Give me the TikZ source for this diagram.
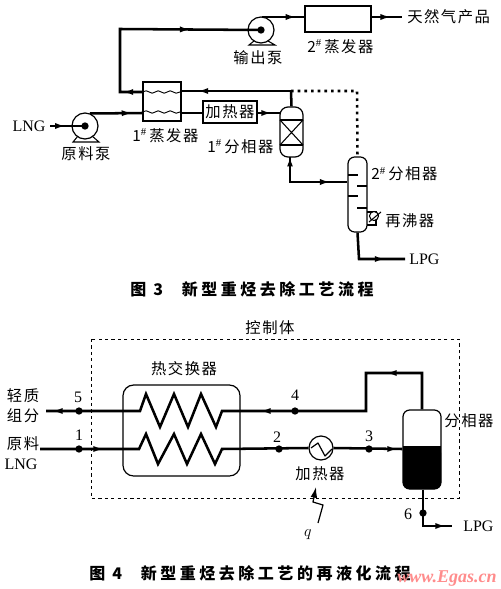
\documentclass[tikz,border=0pt]{standalone}
\usepackage{fontspec}
\setmainfont{Liberation Serif}
\newfontfamily\cjk[LetterSpace=10]{Noto Sans CJK SC}
\newfontfamily\cjkt[LetterSpace=22]{Noto Sans CJK SC}
\usetikzlibrary{arrows.meta,decorations.markings,decorations.pathmorphing}
\def\u{0.75pt}
\tikzset{
  x=0.75pt,y=-0.75pt,
  flow/.style={line width=1.9pt,line join=miter},
  thin line/.style={line width=0.8pt},
  midtip/.style={postaction={decorate,decoration={markings,mark=at position #1 with {\arrow{Latex[length=8pt,width=4.6pt]}}}}},
  equip/.style={draw,line width=0.9pt,fill=white,inner sep=0pt},
  label/.style={inner sep=0pt,font=\cjk\fontsize{11.5}{13}\selectfont},
  latin/.style={inner sep=0pt,font=\fontsize{12}{13}\selectfont},
  title/.style={inner sep=0pt,font=\cjkt\bfseries\fontsize{12}{14}\selectfont},
  pt/.style={circle,fill=black,minimum size=5.5pt,inner sep=0pt},
  wave/.style={line width=0.7pt,decorate,decoration={snake,segment length=9pt,amplitude=0.9pt}},
  ctrl/.style={draw,line width=0.7pt,dash pattern=on 2.4pt off 2.4pt}
}
\begin{document}
\begin{tikzpicture}
\useasboundingbox (0,0) rectangle (500,589);
\fill[white] (0,0) rectangle (500,589);

% ---------- Figure 3 ----------
\node[circle,equip,minimum size=26*\u] (pumpA) at (85,126) {};
\node[circle,equip,minimum size=26*\u] (pumpB) at (261,30) {};
\node[equip,minimum width=38*\u,minimum height=39*\u] (evapA) at (162,101.5) {};
\node[equip,minimum width=66*\u,minimum height=26*\u] (evapB) at (338,19) {};
\node[equip,minimum width=54*\u,minimum height=22*\u,font=\cjk\fontsize{11.5}{13}\selectfont] (heatA) at (230,112) {加热器};
\node[equip,rounded corners=6pt,minimum width=23*\u,minimum height=50*\u] (sepA) at (291.5,132) {};
\node[equip,rounded corners=5pt,minimum width=19*\u,minimum height=75*\u] (sepB) at (357.5,194.5) {};

\coordinate (lngIn) at (50,126);
\coordinate (pATop) at (90,113.5);
\coordinate (eAinL) at (143,113);
\coordinate (eAoutR) at (181,113);
\coordinate (hAinL) at (203,113);
\coordinate (hAoutR) at (257,113);
\coordinate (sAinL) at (280,113);
\coordinate (junc) at (291,91);
\coordinate (eAhotR) at (181,91);
\coordinate (eAhotL) at (143,92);
\coordinate (cornerB) at (120,92);
\coordinate (cornerT) at (120,29);
\coordinate (pBTop) at (262,17);
\coordinate (eBin) at (305,17);
\coordinate (eBout) at (371,17);
\coordinate (prodEnd) at (402,17);
\coordinate (dotC) at (357,91);
\coordinate (sepAbot) at (290,157);
\coordinate (lowC) at (290,182);
\coordinate (sBin) at (347,182);
\coordinate (lpgC) at (359,259);
\coordinate (lpgEnd) at (405,259);

\draw[flow,midtip=0.45] (lngIn) -- (pumpA.center);
\node[pt,minimum size=5.5pt] (pAdot) at (pumpA.center) {};
\draw[flow,midtip=0.8] (pATop) -- (eAinL);
\draw[flow] (eAoutR) -- (hAinL);
\draw[flow,midtip=0.65] (hAoutR) -- (sAinL);
\draw[flow,midtip=0.85] (junc) -- (eAhotR);
\draw[flow] (junc) -- (sepA.north);
\draw[flow,midtip=0.09,midtip=0.69] (eAhotL) -- (cornerB) -- (cornerT) -- (pumpB.center);
\node[pt,minimum size=5.5pt] (pBdot) at (pumpB.center) {};
\draw[flow,midtip=0.8] (pBTop) -- (eBin);
\draw[flow,midtip=0.65] (eBout) -- (prodEnd);
\draw[line width=1.9pt,dash pattern=on 2pt off 3pt] (junc) -- (dotC) -- (sepB.north);
\draw[flow,midtip=0.8] (sepAbot) -- (lowC) -- (sBin);
\draw[-{Latex[length=7pt,width=4.4pt]},flow] (lowC) -- (sepAbot);
\draw[flow,midtip=0.73] (sepB.south) -- (lpgC) -- (lpgEnd);

% evaporator wavy tubes
\draw[wave] (evapA.west |- 0,92) -- (evapA.east |- 0,92);
\draw[wave] (evapA.west |- 0,112) -- (evapA.east |- 0,112);
% pump bases
\draw[thin line] (78,136) -- (73,142) -- (99,142) -- (92,136);
\draw[thin line] (254,41) -- (249,45) -- (275,45) -- (268,41);
% separator 1 internals
\draw[thin line] (280,120) -- (303,120) (280,145) -- (303,145);
\draw[thin line] (280,120) -- (303,145) (303,120) -- (280,145);
% separator 2 trays
\draw[thin line] (348,175) -- (358,175) (357,186) -- (367,186) (348,196) -- (358,196) (357,208) -- (367,208);
% reboiler
\draw[thin line] (367,212) -- (376,212) -- (376,225) -- (367,225);
\draw[thin line,fill=white] (374,216) circle (4.5);
\draw[thin line] (369,222) -- (381,212);

\node[latin] (tLNG) at (29,126) {LNG};
\node[label] (tP1) at (86,154) {原料泵};
\node[label,anchor=west] (tE1) at (132,136) {1$^{\#}$\,蒸发器};
\node[label,anchor=west] (tS1) at (207,147) {1$^{\#}$\,分相器};
\node[label] (tP2) at (258,58) {输出泵};
\node[label,anchor=west] (tE2) at (307,47) {2$^{\#}$\,蒸发器};
\node[label,anchor=west] (tProd) at (407,17) {天然气产品};
\node[label,anchor=west] (tS2) at (371,174) {2$^{\#}$\,分相器};
\node[label,anchor=west] (tReb) at (385,221) {再沸器};
\node[latin,anchor=west] (tLPGa) at (409,259) {LPG};
\node[title,anchor=west] (tFig3) at (130,289) {图 3\hspace{14pt}新型重烃去除工艺流程};

% ---------- Figure 4 ----------
\draw[ctrl] (91,339) rectangle (459,498);
\node[label] (tCtl) at (270,328) {控制体};
\node[label] (tHX) at (184,369) {热交换器};
\node[draw,line width=0.9pt,rounded corners=8pt,minimum width=117*\u,minimum height=91*\u,inner sep=0pt] (hx) at (181.5,430.5) {};
\node[circle,equip,minimum size=24*\u] (heatB) at (321,448) {};
\node[draw,line width=0.9pt,rounded corners=5pt,minimum width=38*\u,minimum height=79*\u,inner sep=0pt] (sepC) at (422,449.5) {};
\fill[rounded corners=5pt] (403,446) -- (403,489) -- (441,489) -- (441,446) -- cycle;
\fill (403,446) rectangle (441,455);

\coordinate (lightOut) at (46,411);
\coordinate (feedIn) at (40,449);
\coordinate (up) at (366,411);
\coordinate (upT) at (366,373);
\coordinate (dn) at (423,526);
\coordinate (lpgF) at (452,526);

\draw[flow] (sepC.north) -- (upT -| sepC.north) -- (upT) -- (up) -- (222,411) -- (216,427) -- (201,394) -- (188,427) -- (174,394) -- (160,427) -- (146,394) -- (140,411) -- (lightOut);
\draw[flow] (feedIn) -- (139,449) -- (146,434) -- (158,464) -- (174,434) -- (187,464) -- (201,434) -- (215,464) -- (222,449) -- (heatB.west);
\draw[flow] (heatB.east) -- (sepC.west |- 0,449);
\draw[flow] (sepC.south -| dn) -- (dn) -- (lpgF);
% arrows along the lines
\draw[flow,-{Latex[length=8pt,width=4.6pt]}] (380,449) -- (398,449);
\draw[flow,-{Latex[length=8pt,width=4.6pt]}] (280,411) -- (260,411);
\draw[flow,-{Latex[length=8pt,width=4.6pt]}] (405,373) -- (386,373);
\draw[flow,-{Latex[length=8pt,width=4.6pt]}] (66,411) -- (52,411);
\draw[flow,-{Latex[length=8pt,width=4.6pt]}] (92,449) -- (104,449);
\draw[flow,-{Latex[length=8pt,width=4.6pt]}] (430,526) -- (446,526);

\draw[line width=0.9pt,line join=round] (311,448) -- (318,443) -- (325,456) -- (332,449);
\node[pt] (p5) at (79,411) {};
\node[pt] (p1) at (79,449) {};
\node[pt] (p2) at (279,449) {};
\node[pt] (p3) at (369,449) {};
\node[pt] (p4) at (295,411) {};
\node[pt] (p6) at (423,513) {};
\coordinate (qTail) at (318,523);
\draw[line width=0.9pt,-{Latex[length=8pt,width=5pt]}] (qTail) -- (323,505) -- (313,502) -- (316,487);

\node[latin] (n5) at (78,397) {5};
\node[latin] (n1) at (79,435) {1};
\node[latin] (n2) at (277,437) {2};
\node[latin] (n3) at (369,436) {3};
\node[latin] (n4) at (295,395) {4};
\node[latin] (n6) at (408,514) {6};
\node[latin] (tq) at (308,535) {$q$};
\node[label] (tL1) at (23,396) {轻质};
\node[label] (tL2) at (23,416) {组分};
\node[label] (tR1) at (23,444) {原料};
\node[latin] (tR2) at (21,464) {LNG};
\node[label] (tHB) at (320,474) {加热器};
\node[label] (tSC) at (469,421) {分相器};
\node[latin,anchor=west] (tLPGb) at (463,526) {LPG};
\node[title,anchor=west] (tFig4) at (89,573) {图 4\hspace{14pt}新型重烃去除工艺的再液化流程};
\node[inner sep=0pt,anchor=west,text=red!45!white,font=\bfseries\itshape\fontsize{13.5}{14}\selectfont] (tWm) at (397,579) {www.Egas.cn};
\end{tikzpicture}
\end{document}
